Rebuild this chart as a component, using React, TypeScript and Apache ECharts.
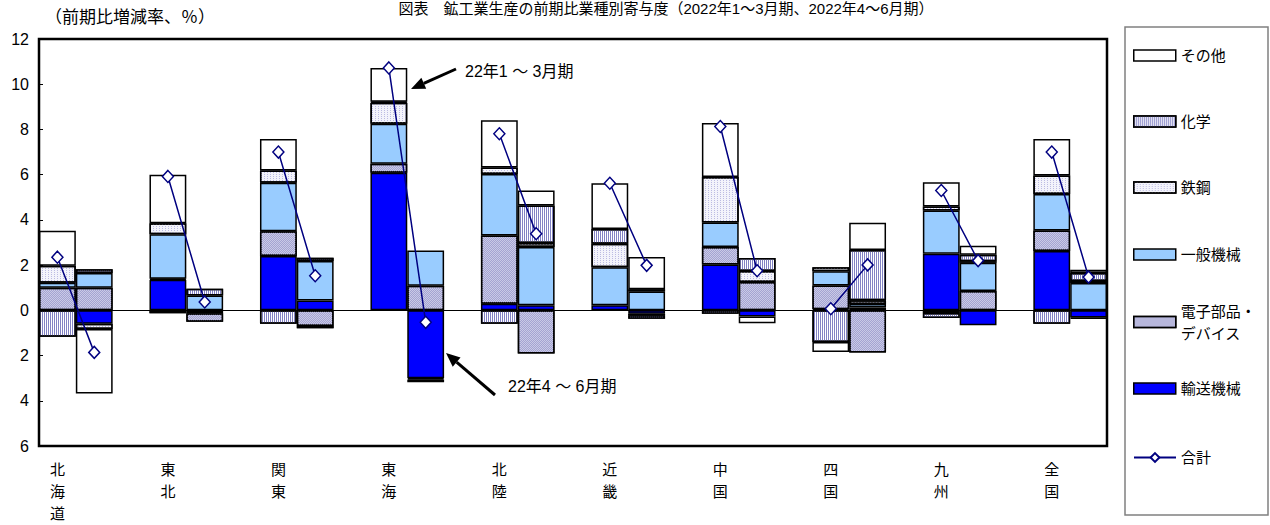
import React, { useEffect, useRef } from 'react';
import * as echarts from 'echarts';

const FONT = "'Liberation Sans', 'Noto Sans CJK JP', sans-serif";

const regions = ['北海道', '東北', '関東', '東海', '北陸', '近畿', '中国', '四国', '九州', '全国'];

// Contributions (percentage points) per region: [22年1～3月期, 22年4～6月期]
const transport = [[0, -0.59], [1.35, -0.13], [2.4, 0.44], [6.08, -3.0], [0.29, 0.22], [0.22, -0.15], [2.03, -0.27], [0.05, 0.12], [2.5, -0.66], [2.62, -0.32]];
const electronics = [[1.0, 1.0], [0.05, -0.37], [1.1, -0.69], [0.4, 1.09], [3.02, -1.91], [0, -0.07], [0.77, 1.25], [1.05, -1.86], [-0.12, 0.85], [0.91, -0.05]];
const machinery = [[0.22, 0.65], [1.97, 0.66], [2.14, 1.74], [1.77, 1.56], [2.72, 2.58], [1.69, 0.83], [1.08, 0], [0.63, 0.16], [1.91, 1.25], [1.62, 1.21]];
const steel = [[0.75, -0.24], [0.48, 0], [0.54, -0.1], [0.93, 0], [0.29, 0.18], [1.03, 0.1], [2.02, 0.49], [0.18, 0.17], [0.18, 0.07], [0.81, 0.09]];
const chemicals = [[-1.17, 0.17], [-0.13, 0.3], [-0.59, 0.15], [0.05, -0.06], [-0.59, 1.66], [0.66, -0.15], [-0.15, 0.58], [-1.4, 2.22], [-0.22, 0.29], [-0.59, 0.35]];
const others = [[1.55, -2.85], [2.15, 0], [1.4, 0], [1.49, -0.12], [2.09, 0.66], [2.02, 1.43], [2.39, -0.3], [-0.44, 1.2], [1.08, 0.4], [1.62, 0.15]];
const totals = [[2.35, -1.86], [5.92, 0.37], [7.0, 1.53], [10.72, -0.53], [7.81, 3.39], [5.62, 1.99], [8.13, 1.75], [0.07, 2.01], [5.3, 2.2], [7.0, 1.47]];

const Y_MIN = -6;
const Y_MAX = 12;
const Y_STEP = 2;

// Each region occupies two bar slots (1–3月期, 4–6月期) followed by an empty spacer slot.
const slots: string[] = [];
regions.forEach((r, i) => {
  slots.push(`${r}|1`, `${r}|2`);
  if (i < regions.length - 1) slots.push(`${r}|gap`);
});

const spread = (pairs: number[][], dropZero: boolean) => {
  const out: (number | string)[] = [];
  pairs.forEach((p, i) => {
    out.push(dropZero && p[0] === 0 ? '-' : p[0]);
    out.push(dropZero && p[1] === 0 ? '-' : p[1]);
    if (i < pairs.length - 1) out.push('-');
  });
  return out;
};

const border = { borderColor: '#000', borderWidth: 1.5 };

const barSeries = [
  { name: '輸送機械', data: transport, itemStyle: { color: '#0000ff', ...border } },
  {
    name: '電子部品・デバイス', data: electronics,
    itemStyle: { color: '#cacae6', ...border, decal: { symbol: 'rect', symbolSize: 1, dashArrayX: [[1, 1], [0, 1, 1, 0]], dashArrayY: [1, 0], color: '#a4a4d2' } },
  },
  { name: '一般機械', data: machinery, itemStyle: { color: '#99ccff', ...border } },
  {
    name: '鉄鋼', data: steel,
    itemStyle: { color: '#f4f4fb', ...border, decal: { symbol: 'rect', symbolSize: 1, dashArrayX: [1, 2], dashArrayY: [1, 1], color: '#bcbce2' } },
  },
  {
    name: '化学', data: chemicals,
    itemStyle: { color: '#ffffff', ...border, decal: { symbol: 'rect', symbolSize: 1, dashArrayX: [1, 1], dashArrayY: [2, 0], color: '#8282c4' } },
  },
  { name: 'その他', data: others, itemStyle: { color: '#ffffff', ...border } },
];

// Legend rows, top to bottom, with the vertical centre of each swatch
const legendRows: [string, number][] = [
  ['その他', 55],
  ['化学', 121],
  ['鉄鋼', 187],
  ['一般機械', 254],
  ['電子部品・デバイス', 322],
  ['輸送機械', 388],
  ['合計', 457],
];

const arrow = (x1: number, y1: number, x2: number, y2: number) => {
  const dx = x2 - x1;
  const dy = y2 - y1;
  const len = Math.hypot(dx, dy);
  const ux = dx / len;
  const uy = dy / len;
  const headLen = 14;
  const headW = 6;
  const bx = x2 - ux * headLen;
  const by = y2 - uy * headLen;
  return [
    { type: 'line', shape: { x1, y1, x2: bx, y2: by }, style: { stroke: '#000', lineWidth: 3 } },
    {
      type: 'polygon',
      shape: { points: [[x2, y2], [bx - uy * headW, by + ux * headW], [bx + uy * headW, by - ux * headW]] },
      style: { fill: '#000' },
    },
  ];
};

export default function App() {
  const ref = useRef<HTMLDivElement>(null);

  useEffect(() => {
    if (!ref.current) return;
    const chart = echarts.init(ref.current, undefined, { renderer: 'svg' });

    const legends = legendRows.map(([name, cy]) => {
      const isLine = name === '合計';
      const twoLine = name === '電子部品・デバイス';
      return {
        data: [name],
        orient: 'vertical',
        left: 1133,
        top: twoLine ? cy - 33 : cy - 7,
        padding: 0,
        itemWidth: 42,
        itemHeight: 11,
        selectedMode: false,
        ...(isLine ? {} : { icon: 'rect', itemStyle: { borderColor: '#000', borderWidth: 1.5 } }),
        formatter: twoLine ? () => '電子部品・\nデバイス' : undefined,
        textStyle: {
          fontFamily: FONT, fontSize: 15, color: '#000',
          ...(twoLine ? { lineHeight: 22, padding: [22, 0, 0, 0] } : {}),
        },
      };
    });

    chart.setOption({
      animation: false,
      backgroundColor: '#fff',
      grid: { left: 39, right: 163, top: 39, bottom: 79, show: true, borderColor: '#000', borderWidth: 2.5 },
      xAxis: {
        type: 'category',
        data: slots,
        position: 'bottom',
        axisLine: { show: false },
        axisTick: { show: false },
        axisLabel: {
          interval: 0,
          margin: 12,
          fontFamily: FONT,
          fontSize: 15,
          lineHeight: 22,
          color: '#000',
          formatter: (v: string) => (v.endsWith('|1') ? v.split('|')[0].split('').join('\n') : ''),
        },
      },
      yAxis: {
        type: 'value',
        min: Y_MIN,
        max: Y_MAX,
        interval: Y_STEP,
        name: '（前期比増減率、％）',
        nameLocation: 'end',
        nameGap: 13,
        nameTextStyle: { fontFamily: FONT, fontSize: 17, color: '#000', align: 'left', padding: [0, 0, 0, 6] },
        axisLine: { show: false },
        axisTick: { show: true, inside: true, length: 4, lineStyle: { color: '#000', width: 1 } },
        splitLine: { show: false },
        axisLabel: {
          fontFamily: FONT, fontSize: 16, color: '#000', margin: 10,
          formatter: (v: number) => String(Math.abs(v)),
        },
      },
      legend: legends,
      series: [
        ...barSeries.map((s) => ({
          type: 'bar',
          name: s.name,
          stack: 'contrib',
          barCategoryGap: '0%',
          data: spread(s.data, true),
          itemStyle: s.itemStyle,
        })),
        {
          type: 'line',
          name: '合計',
          data: spread(totals, false),
          connectNulls: false,
          symbol: 'diamond',
          symbolSize: [11, 12],
          lineStyle: { color: '#000080', width: 1.5 },
          itemStyle: { color: '#ffffff', borderColor: '#000080', borderWidth: 1.5 },
          z: 5,
          markLine: {
            silent: true,
            symbol: 'none',
            label: { show: false },
            lineStyle: { color: '#000', width: 1, type: 'solid' },
            data: [{ yAxis: 0 }],
          },
        },
      ],
      graphic: [
        {
          type: 'text',
          x: 666,
          y: 1,
          style: {
            text: '図表　鉱工業生産の前期比業種別寄与度（2022年1～3月期、2022年4～6月期）',
            fontFamily: FONT, fontSize: 15, fill: '#000', align: 'center', verticalAlign: 'top',
          },
        },
        {
          type: 'rect',
          shape: { x: 1125, y: 27, width: 143, height: 488 },
          style: { fill: 'none', stroke: '#808080', lineWidth: 1.5 },
        },
        ...arrow(456, 69, 411, 89),
        {
          type: 'text', x: 465, y: 71,
          style: { text: '22年1 ～ 3月期', fontFamily: FONT, fontSize: 16, fill: '#000', verticalAlign: 'middle' },
        },
        ...arrow(495, 395, 446, 353),
        {
          type: 'text', x: 508, y: 386,
          style: { text: '22年4 ～ 6月期', fontFamily: FONT, fontSize: 16, fill: '#000', verticalAlign: 'middle' },
        },
      ],
    });

    return () => chart.dispose();
  }, []);

  return (
    <div
      ref={ref}
      style={{ position: 'fixed', left: 0, top: 0, width: 1270, height: 525, background: '#fff' }}
    />
  );
}
